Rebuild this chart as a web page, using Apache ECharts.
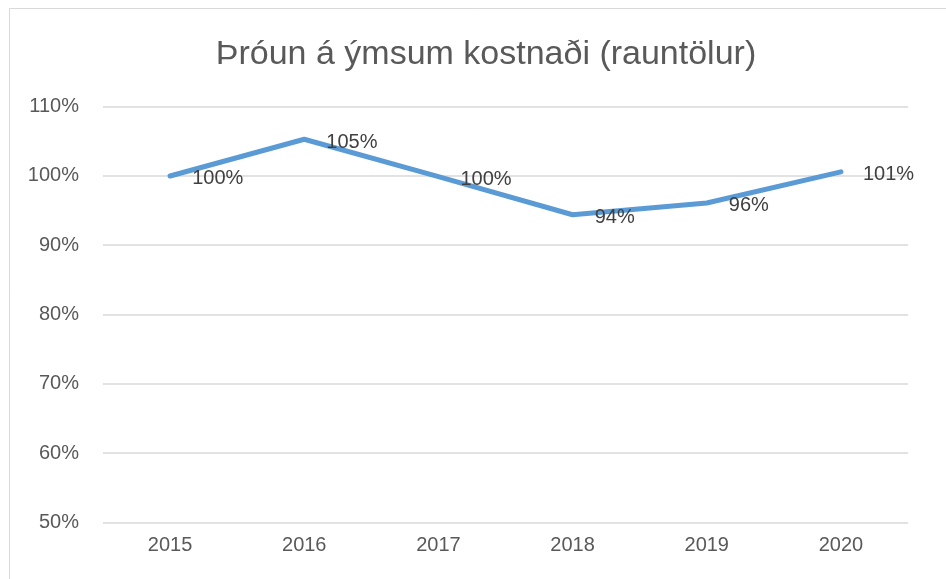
<!DOCTYPE html>
<html>
<head>
<meta charset="utf-8">
<script src="https://cdn.jsdelivr.net/npm/echarts@6/dist/echarts.min.js"></script>
<style>
  html, body { margin: 0; padding: 0; background: #fff; }
  #chart { width: 946px; height: 579px; }
</style>
</head>
<body>
<div id="chart"></div>
<script>
    var years = ["2015", "2016", "2017", "2018", "2019", "2020"];
    var values = [100.0, 105.3, 99.9, 94.4, 96.1, 100.6];
    var chartTitle = "Þróun á ýmsum kostnaði (rauntölur)";

    var chart = echarts.init(document.getElementById("chart"));
    chart.setOption({
        animation: false,
        graphic: [{
            type: "rect",
            shape: { x: 9.5, y: 8.5, width: 960, height: 600 },
            style: { fill: "none", stroke: "#d9d9d9", lineWidth: 1 }
        }],
        title: {
            text: chartTitle,
            left: 481,
            top: 33,
            textAlign: "center",
            textStyle: {
                fontFamily: "Liberation Sans, sans-serif",
                fontWeight: "normal",
                fontSize: 34,
                color: "#595959"
            }
        },
        grid: {
            left: 103,
            right: 38,
            top: 106.7,
            bottom: 56.7
        },
        xAxis: {
            type: "category",
            data: years,
            axisLine: { show: false },
            axisTick: { show: false },
            axisLabel: {
                margin: 13,
                fontSize: 20,
                color: "#595959",
                fontFamily: "Liberation Sans, sans-serif"
            }
        },
        yAxis: {
            type: "value",
            min: 50,
            max: 110,
            interval: 10,
            axisLabel: {
                margin: 24,
                fontSize: 20,
                color: "#595959",
                fontFamily: "Liberation Sans, sans-serif",
                formatter: "{value}%"
            },
            splitLine: { lineStyle: { color: "#d9d9d9", width: 1.5 } }
        },
        series: [{
            type: "line",
            data: values,
            symbol: "circle",
            symbolSize: 0.1,
            showSymbol: true,
            itemStyle: { color: "#5b9bd5" },
            lineStyle: { color: "#5b9bd5", width: 5, cap: "round", join: "round" },
            label: {
                show: true,
                position: "right",
                distance: 22,
                offset: [0, 3],
                fontSize: 20,
                color: "#404040",
                fontFamily: "Liberation Sans, sans-serif",
                formatter: function (p) { return Math.round(p.value) + "%"; }
            }
        }]
    });
</script>
</body>
</html>
